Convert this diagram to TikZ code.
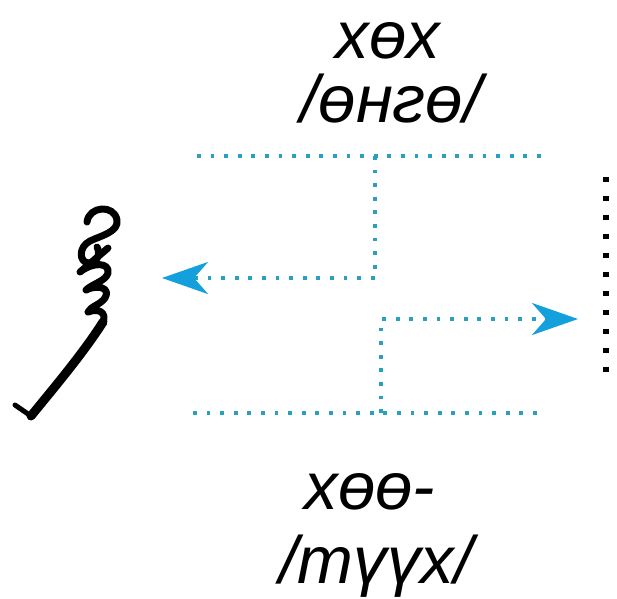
\documentclass[tikz,border=0pt]{standalone}
\usepackage{fontspec}
\newfontfamily\mnfont{Liberation Sans}
\usetikzlibrary{arrows.meta}
\definecolor{chamxanh}{RGB}{40,160,190}
\definecolor{muixanh}{RGB}{20,160,220}
\begin{document}
\begin{tikzpicture}[x=1pt,y=-1pt,
 cham/.style={draw=chamxanh,line width=3.8pt,dash pattern=on 3.8pt off 9.8pt},
 chamden/.style={draw=black,line width=5.5pt,dash pattern=on 5.5pt off 13.5pt},
 muiten/.style={-{Stealth[length=46pt,width=32pt,inset=14pt,color=muixanh]}},
 chu/.style={font=\mnfont\itshape\fontsize{67}{72}\selectfont,inner sep=0pt,anchor=base},
 net/.style={line width=7pt,line cap=round,line join=round}]
 \useasboundingbox (0,0) rectangle (617,598);
 \path
 (388,58) node[chu] (hox) {хөх} % <<< hàng trên
 (391,122) node[chu] (ongo) {/өнгө/}
 (370,509) node[chu] (hoo) {хөө-} % <<< hàng dưới
 (376,583) node[chu] (tuuh) {/түүх/};
 \path
 (197,156) coordinate (T1) (543,156) coordinate (T2) (375,156) coordinate (T3)
 (375,278) coordinate (T4) (162,278) coordinate (T5)
 (193,413) coordinate (D1) (543,413) coordinate (D2) (381,413) coordinate (D3)
 (381,319) coordinate (D4) (578,319) coordinate (D5)
 (606,176.5) coordinate (K1) (606,371.5) coordinate (K2);
 \draw[cham] (T1)--(T2) (D1)--(D2);
 \begin{scope}[cham,muiten]
 \draw (T3)--(T4)--(T5);
 \draw (D3)--(D4)--(D5);
 \end{scope}
 \draw[chamden] (K1)--(K2);
 % chữ Mông Cổ
 \draw[net] (87,222) .. controls (89,206) and (114,204) .. (117,220)
 .. controls (119,232) and (100,236) .. (90,241)
 .. controls (78,247) and (79,263) .. (89,263)
 .. controls (97,263) and (101,254) .. (97,247);
 \draw[net] (108,248) -- (80,272) .. controls (92,262) and (110,262) .. (108,273)
 .. controls (106,281) and (92,284) .. (86,290)
 .. controls (98,284) and (111,288) .. (105,298)
 .. controls (100,305) and (91,306) .. (88,312)
 .. controls (98,308) and (107,312) .. (103,322);
 \draw[net,line width=9pt] (103,322) .. controls (82,355) and (52,390) .. (31,416);
 \draw[net,line width=5pt] (31,416) -- (15,405);
\end{tikzpicture}
\end{document}
